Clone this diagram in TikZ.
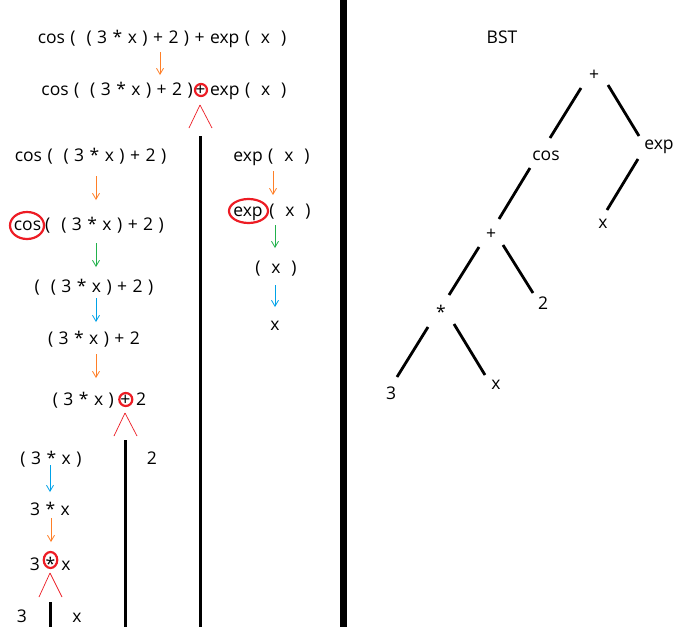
\documentclass[tikz,border=0pt]{standalone}
\usepackage{fontspec}
\setmainfont{Open Sans}[WordSpace=1.2]
\usetikzlibrary{arrows.meta,shapes.geometric,calc}
\definecolor{porange}{RGB}{255,127,39}
\definecolor{pgreen}{RGB}{34,177,76}
\definecolor{pblue}{RGB}{0,162,232}
\definecolor{pred}{RGB}{237,28,36}
\begin{document}
\begin{tikzpicture}[x=1pt,y=-1pt,
  txt/.style={inner sep=0pt, font=\fontsize{17.5}{21}\selectfont, text height=13.5pt, text depth=3pt},
  lbl/.style={inner sep=0pt, font=\fontsize{17.5}{21}\selectfont},
  arr/.style={line width=0.8pt, -{Straight Barb[length=6pt,width=7pt]}},
  ring/.style={draw=pred, line width=2.2pt, ellipse, inner sep=0pt},
  lam/.style={draw=pred, line width=0.7pt},
  stem/.style={line width=3pt},
  tedge/.style={line width=2.8pt}]
\useasboundingbox (0,0) rectangle (694,627);
\fill[white] (0,0) rectangle (694,627);
% column coordinates
\coordinate (k160) at (160,0);
\coordinate (k96) at (96,0);
\coordinate (k273) at (273,0);
\coordinate (k275) at (275,0);
\coordinate (k50) at (50,0);
\coordinate (k51) at (51,0);
% main divider
\draw[line width=7pt] (343,0) -- (343,627);
% ---- top rows
\node[txt] (R1) at (162,38) {cos ( \ ( 3 * x ) + 2 ) + exp ( \ x \ )};
\node[txt] (R2p) at (200.5,90) {+};
\node[ring, minimum width=12pt, minimum height=12pt] (R2c) at (201,90) {};
\node[txt, anchor=east] (R2a) at (193,90) {cos ( \ ( 3 * x ) + 2 )};
\node[txt, anchor=west] (R2b) at (210,90) {exp ( \ x \ )};
\draw[arr, porange, shorten <=14pt, shorten >=15pt] (R1.center -| k160) -- (R2p.center -| k160);
\coordinate (V1) at (200,105);
\draw[lam] (V1) -- (189,128);
\draw[lam] (V1) -- (212,128);
\draw[stem] (200,136) -- (200,627);
% ---- left column
\node[txt] (L1) at (90.5,156) {cos ( \ ( 3 * x ) + 2 )};
\node[txt] (L2c) at (27.5,225) {cos};
\node[ring, minimum width=34pt, minimum height=27pt] (L2e) at (27,225.5) {};
\node[txt, anchor=west] (L2) at (45,225) {( \ ( 3 * x ) + 2 )};
\node[txt] (L3) at (94,287) {( \ ( 3 * x ) + 2 )};
\node[txt] (L4) at (94,339) {( 3 * x ) + 2};
\node[txt] (L5p) at (125.5,400) {+};
\node[ring, minimum width=13pt, minimum height=13pt] (L5c) at (125.8,399.5) {};
\node[txt, anchor=east] (L5a) at (114,400) {( 3 * x )};
\node[txt, anchor=west] (L5b) at (136,400) {2};
\coordinate (V2) at (125,413);
\draw[lam] (V2) -- (114,436);
\draw[lam] (V2) -- (137,436);
\draw[stem] (125,440) -- (125,627);
\node[txt] (L6) at (51,459) {( 3 * x )};
\node[txt] (L6b) at (152,459) {2};
\node[txt] (L7) at (50,510) {3 * x};
\node[txt] (L8s) at (50.5,565) {*};
\node[ring, minimum width=13.5pt, minimum height=16pt] (L8c) at (50.5,560) {};
\node[txt] (L8a) at (35,565) {3};
\node[txt] (L8b) at (66,565) {x};
\coordinate (V3) at (50,573);
\draw[lam] (V3) -- (39,597);
\draw[lam] (V3) -- (62,597);
\draw[stem] (50,602) -- (50,627);
\node[txt] (L9a) at (22,617.5) {3};
\node[txt] (L9b) at (77,617.5) {x};
% ---- exp column
\node[txt] (E1) at (271.5,156) {exp ( \ x \ )};
\node[txt] (E2c) at (248,211) {exp};
\node[ring, minimum width=39pt, minimum height=24pt] (E2e) at (248.5,211) {};
\node[txt] (E2) at (290,211) {( \ x \ )};
\node[txt] (E3) at (276,268) {( \ x \ )};
\node[txt] (E4) at (275,325) {x};
% ---- arrows
\draw[arr, porange, shorten <=20pt, shorten >=25pt] (L1.center -| k96) -- (L2c.center -| k96);
\draw[arr, porange, shorten <=15pt, shorten >=16pt] (E1.center -| k273) -- (E2c.center -| k273);
\draw[arr, pgreen, shorten <=18pt, shorten >=20pt] (L2c.center -| k96) -- (L3.center -| k96);
\draw[arr, pgreen, shorten <=14pt, shorten >=20pt] (E2c.center -| k275) -- (E3.center -| k275);
\draw[arr, pblue, shorten <=11pt, shorten >=17pt] (L3.center -| k96) -- (L4.center -| k96);
\draw[arr, pblue, shorten <=17pt, shorten >=18pt] (E3.center -| k275) -- (E4.center -| k275);
\draw[arr, porange, shorten <=15pt, shorten >=22pt] (L4.center -| k96) -- (L5p.center -| k96);
\draw[arr, pblue, shorten <=6pt, shorten >=18pt] (L6.center -| k50) -- (L7.center -| k50);
\draw[arr, porange, shorten <=8pt, shorten >=23pt] (L7.center -| k51) -- (L8s.center -| k51);
% ---- BST
\node[lbl] (bst) at (502,37) {BST};
\node[lbl] (t1) at (594,75) {+};
\node[lbl] (tcos) at (546,156) {cos};
\node[lbl] (texp) at (659,147) {exp};
\node[lbl] (tx1) at (603,224) {x};
\node[lbl] (t2) at (491,234) {+};
\node[lbl] (ttwo) at (543,303) {2};
\node[lbl] (tstar) at (441,312) {*};
\node[lbl] (tthree) at (391,393) {3};
\node[lbl] (tx2) at (496,385) {x};
\draw[tedge] ([shift={(-13,13)}]t1.center) -- ([shift={(4,-18)}]tcos.center);
\draw[tedge] ([shift={(14,10)}]t1.center) -- ([shift={(-20,-11)}]texp.center);
\draw[tedge] ([shift={(-16,12)}]tcos.center) -- ([shift={(8,-15)}]t2.center);
\draw[tedge] ([shift={(-21,12)}]texp.center) -- ([shift={(4,-14)}]tx1.center);
\draw[tedge] ([shift={(-12,13)}]t2.center) -- ([shift={(8,-17)}]tstar.center);
\draw[tedge] ([shift={(12,11)}]t2.center) -- ([shift={(-10,-10)}]ttwo.center);
\draw[tedge] ([shift={(-13,15)}]tstar.center) -- ([shift={(6,-16)}]tthree.center);
\draw[tedge] ([shift={(13,12)}]tstar.center) -- ([shift={(-11,-10)}]tx2.center);
\end{tikzpicture}
\end{document}
